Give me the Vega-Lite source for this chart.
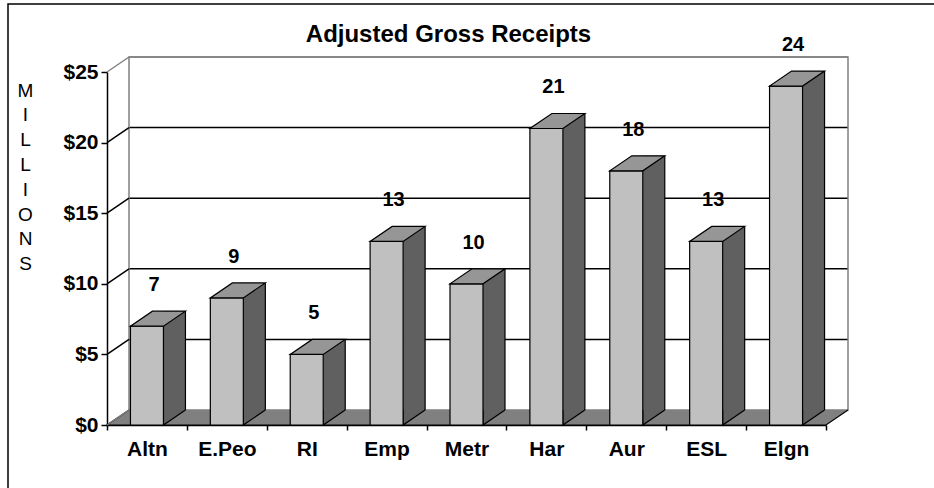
{
  "$schema": "https://vega.github.io/schema/vega-lite/v6.json",
  "width": 719,
  "height": 353,
  "autosize": {"type": "none"},
  "padding": {"left": 107, "top": 72, "right": 108, "bottom": 63},
  "background": "white",
  "config": {
    "view": {"stroke": null},
    "font": "Liberation Sans",
    "axisX": {"title": null, "labelAngle": 0, "tickBand": "extent", "tickSize": 5, "labelPadding": 8, "labelFont": "Liberation Sans", "labelFontSize": 21, "labelFontWeight": "bold", "labelColor": "black", "tickColor": "black", "domainColor": "black", "domainWidth": 1.5, "tickWidth": 1.5, "grid": false},
    "axisY": {"labelFont": "Liberation Sans", "labelFontSize": 21, "labelFontWeight": "bold", "labelColor": "black", "labelPadding": 3, "tickSize": 6, "tickColor": "black", "tickWidth": 1.5, "domainColor": "black", "domainWidth": 1.5, "grid": false, "titleAngle": 0, "titleAlign": "center", "titleBaseline": "top", "titleX": -82, "titleY": 9, "titleFont": "Liberation Sans", "titleFontSize": 19, "titleFontWeight": "normal", "titleLineHeight": 24.8, "titleColor": "black"}
  },
  "title": {"text": "Adjusted Gross Receipts", "font": "Liberation Sans", "fontSize": 24, "fontWeight": "bold", "color": "black", "anchor": "middle", "frame": "group", "dx": -18, "offset": -44},
  "datasets": {
    "bars": [
      {"site": "Altn", "receipts": 7},
      {"site": "E.Peo", "receipts": 9},
      {"site": "RI", "receipts": 5},
      {"site": "Emp", "receipts": 13},
      {"site": "Metr", "receipts": 10},
      {"site": "Har", "receipts": 21},
      {"site": "Aur", "receipts": 18},
      {"site": "ESL", "receipts": 13},
      {"site": "Elgn", "receipts": 24}
    ],
    "ticks": [
      {"tick": 0}, {"tick": 5}, {"tick": 10}, {"tick": 15}, {"tick": 20}, {"tick": 25}
    ]
  },
  "layer": [
    {
      "data": {"values": [{}]},
      "mark": {"type": "rect", "x": -99, "x2": 900, "y": -68, "y2": 500, "fillOpacity": 0, "stroke": "black", "strokeWidth": 1.5, "clip": false}
    },
    {
      "data": {"name": "ticks"},
      "transform": [{"filter": "datum.tick > 0"}],
      "mark": {"type": "rule", "yOffset": -15, "strokeWidth": 1.5},
      "encoding": {
        "x": {"value": 22},
        "x2": {"value": 741},
        "y": {"field": "tick", "type": "quantitative"},
        "color": {"condition": {"test": "datum.tick == 25", "value": "#808080"}, "value": "black"}
      }
    },
    {
      "data": {"values": [{}]},
      "mark": {"type": "rect", "x": 22, "x2": 741, "yOffset": -15, "y2Offset": -15, "fillOpacity": 0, "stroke": "#808080", "strokeWidth": 1.5},
      "encoding": {
        "y": {"datum": 25},
        "y2": {"datum": 0}
      }
    },
    {
      "data": {"values": [{}]},
      "mark": {"type": "point", "shape": "M741,-15L719,0L0,0L22,-15", "size": 4, "filled": true, "fill": "#808080", "stroke": "black", "strokeWidth": 1.2, "opacity": 1},
      "encoding": {
        "x": {"value": 0},
        "y": {"datum": 0}
      }
    },
    {
      "data": {"name": "ticks"},
      "mark": {"type": "rule", "y2Offset": -15, "strokeWidth": 1.5},
      "encoding": {
        "x": {"value": 0},
        "x2": {"value": 22},
        "y": {"field": "tick", "type": "quantitative"},
        "y2": {"field": "tick"},
        "color": {"condition": {"test": "datum.tick == 0 || datum.tick == 25", "value": "#808080"}, "value": "black"}
      }
    },
    {
      "data": {"name": "bars"},
      "mark": {"type": "bar", "width": 22, "xOffset": 27.5, "yOffset": -15, "y2Offset": -15, "fill": "#606060", "stroke": null},
      "encoding": {
        "x": {"field": "site", "type": "nominal", "sort": null},
        "y": {"field": "receipts", "type": "quantitative"},
        "y2": {"datum": 0}
      }
    },
    {
      "data": {"name": "bars"},
      "mark": {"type": "point", "shape": "M16.5,-15L16.5,0L38.5,-15", "size": 4, "filled": true, "fill": "#606060", "stroke": "black", "strokeWidth": 1.2, "opacity": 1},
      "encoding": {
        "x": {"field": "site", "type": "nominal", "sort": null},
        "y": {"datum": 0}
      }
    },
    {
      "data": {"name": "bars"},
      "mark": {"type": "rule", "xOffset": 38.5, "yOffset": -15, "y2Offset": -15, "stroke": "black", "strokeWidth": 1.2},
      "encoding": {
        "x": {"field": "site", "type": "nominal", "sort": null},
        "y": {"field": "receipts", "type": "quantitative"},
        "y2": {"datum": 0}
      }
    },
    {
      "data": {"name": "bars"},
      "mark": {"type": "bar", "width": 33, "fill": "#C0C0C0", "stroke": "black", "strokeWidth": 1.2},
      "encoding": {
        "x": {
          "field": "site", "type": "nominal", "sort": null,
          "scale": {"paddingInner": 0, "paddingOuter": 0},
          "axis": {"title": null}
        },
        "y": {
          "field": "receipts", "type": "quantitative",
          "scale": {"domain": [0, 25], "nice": false},
          "axis": {"values": [0, 5, 10, 15, 20, 25], "format": "$d", "title": ["M", "I", "L", "L", "I", "O", "N", "S"]}
        }
      }
    },
    {
      "data": {"name": "bars"},
      "mark": {"type": "point", "shape": "M-16.5,0L16.5,0L38.5,-15L5.5,-15Z", "size": 4, "filled": true, "fill": "#969696", "stroke": "black", "strokeWidth": 1.2, "opacity": 1},
      "encoding": {
        "x": {"field": "site", "type": "nominal", "sort": null},
        "y": {"field": "receipts", "type": "quantitative"}
      }
    },
    {
      "data": {"name": "bars"},
      "mark": {"type": "text", "dx": 7, "dy": -41, "baseline": "middle", "align": "center", "font": "Liberation Sans", "fontSize": 20, "fontWeight": "bold", "color": "black"},
      "encoding": {
        "x": {"field": "site", "type": "nominal", "sort": null},
        "y": {"field": "receipts", "type": "quantitative"},
        "text": {"field": "receipts", "type": "quantitative"}
      }
    }
  ]
}
